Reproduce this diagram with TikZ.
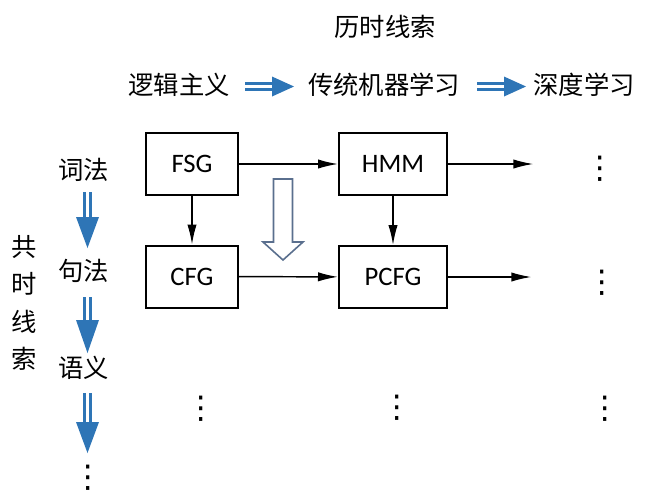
\documentclass[tikz,border=0pt]{standalone}
\usepackage{fontspec}
\setmainfont{Carlito}
\newfontfamily\cjk{Noto Sans CJK SC}
\newfontfamily\dejavu{DejaVu Sans}
\usetikzlibrary{arrows.meta}
\definecolor{arrowblue}{HTML}{2E75B6}
\definecolor{hollowblue}{HTML}{5A6F8E}
\begin{document}
\begin{tikzpicture}[x=0.75pt,y=-0.75pt,
  box/.style={draw, line width=1.5pt, minimum height=46.5pt, font=\fontsize{20}{24}\selectfont},
  cn/.style={font=\cjk\fontsize{19}{23}\selectfont, inner sep=0pt},
  conn/.style={line width=1.1pt, -{Latex[length=15pt,width=7pt]}},
  dotsnode/.style={inner sep=0pt, font=\dejavu\fontsize{23.5}{24}\selectfont},
  shaft/.style={draw=arrowblue, line width=2.4pt, double=white, double distance=2pt},
  bluehead/.style={fill=arrowblue, draw=none}
]
\useasboundingbox (0,0) rectangle (665,501);

% titles
\node[cn] (title) at (385,27) {历时线索};
\node[cn] (logic) at (179,85) {逻辑主义};
\node[cn] (trad) at (384,85) {传统机器学习};
\node[cn] (deep) at (584,85) {深度学习};

% blue horizontal double arrows
\draw[shaft] (245,86.5) -- (273,86.5);
\fill[bluehead] (272,76.5) -- (294,86.5) -- (272,96.5) -- cycle;
\draw[shaft] (477,86.5) -- (505,86.5);
\fill[bluehead] (504,76.5) -- (526,86.5) -- (504,96.5) -- cycle;

% vertical side label
\node[cn, align=center, font=\cjk\fontsize{19}{28}\selectfont] (sync) at (24,303) {共\\时\\线\\索};

% left column
\node[cn] (lex) at (84,170) {词法};
\node[cn] (syn) at (84,271) {句法};
\node[cn] (sem) at (84,368) {语义};
\node[dotsnode] (ldots) at (88,478) {⋮};

\draw[shaft] (87.5,192) -- (87.5,218);
\fill[bluehead] (76,217) -- (87.5,248) -- (99,217) -- cycle;
\draw[shaft] (87.5,297) -- (87.5,321);
\fill[bluehead] (76,320) -- (87.5,353) -- (99,320) -- cycle;
\draw[shaft] (87.5,393) -- (87.5,423);
\fill[bluehead] (76,422) -- (87.5,453) -- (99,422) -- cycle;

% boxes
\node[box, minimum width=69pt] (fsg) at (192,164) {FSG};
\node[box, minimum width=69pt] (cfg) at (192,276.5) {CFG};
\node[box, minimum width=81pt] (hmm) at (393,164) {HMM};
\node[box, minimum width=81pt] (pcfg) at (393,277) {PCFG};

% dots
\node[dotsnode] (d1) at (600,169) {⋮};
\node[dotsnode] (d2) at (602,283) {⋮};
\node[dotsnode] (d3) at (605,409) {⋮};
\node[dotsnode] (d4) at (201,409) {⋮};
\node[dotsnode] (d5) at (397,408) {⋮};

% connectors
\draw[conn] (fsg) -- (hmm);
\draw[conn] (cfg) -- (pcfg);
\draw[conn] (fsg) -- (cfg);
\draw[conn] (hmm) -- (pcfg);
\draw[conn] (hmm.east) -- ([xshift=-50]hmm.east -| d1.center);
\draw[conn] (pcfg.east) -- ([xshift=-53]pcfg.east -| d2.center);

% hollow arrow
\draw[hollowblue, line width=1.2pt, fill=white, line join=miter]
  (273.5,179) -- (292.5,179) -- (292.5,242) -- (303,242) -- (283,260)
  -- (263,242) -- (273.5,242) -- cycle;
\end{tikzpicture}
\end{document}
